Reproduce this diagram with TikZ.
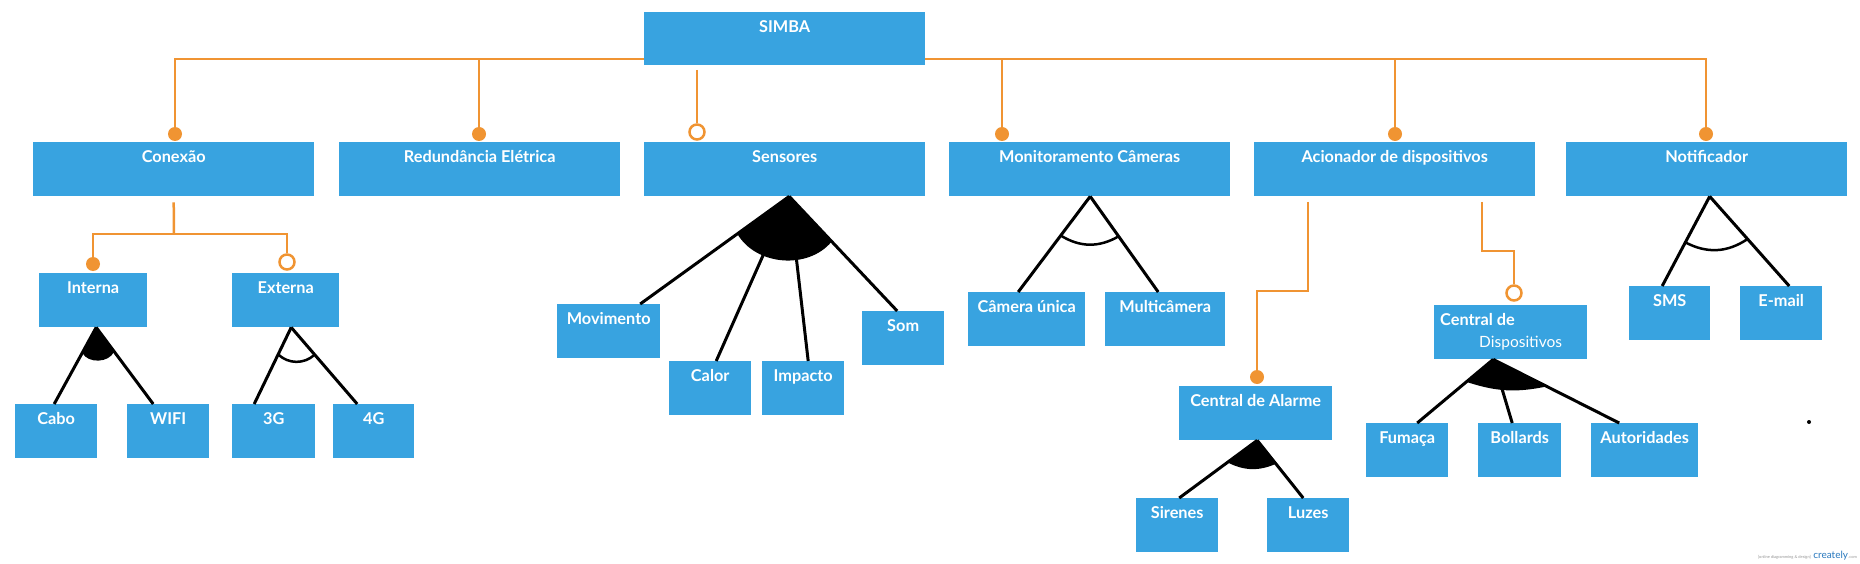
\documentclass[tikz,border=0pt]{standalone}
\usepackage{fontspec}
\setmainfont{Lato}
\usetikzlibrary{calc}
\definecolor{boxblue}{RGB}{56,163,224}
\definecolor{lineorange}{RGB}{240,148,50}
\definecolor{wmgray}{RGB}{150,150,150}
\definecolor{wmblue}{RGB}{40,120,190}
\begin{document}
\begin{tikzpicture}[x=1pt,y=-1pt,
 box/.style={fill=boxblue, inner sep=0pt, text=white, font=\fontsize{16.3}{19}\selectfont\bfseries, anchor=north west, minimum height=54pt, text height=20pt, text depth=34pt},
 oline/.style={draw=lineorange, line width=2.5pt},
 fdot/.style={circle, fill=lineorange, minimum size=14pt, inner sep=0pt},
 odot/.style={circle, draw=lineorange, fill=white, line width=2.5pt, minimum size=15pt, inner sep=0pt},
 bline/.style={draw=black, line width=3pt},
 arcline/.style={draw=black, line width=2.5pt},
 boxtext/.style={anchor=base west, text=white, inner sep=0pt},
]
\fill[white] (0,0) rectangle (1860,564);
\useasboundingbox (0,0) rectangle (1860,564);

% top-level connectors
\coordinate (bus) at (784,59);
\node[fdot] (dCon) at (175,134) {};
\node[fdot] (dRed) at (479,134) {};
\node[odot] (oSen) at (697,132) {};
\node[fdot] (dMon) at (1002,134) {};
\node[fdot] (dAci) at (1395,134) {};
\node[fdot] (dNot) at (1706,134) {};
\coordinate (sStart) at (697,70);
\draw[oline] (dCon) -- (dCon |- bus) -- (dNot |- bus) -- (dNot);
\draw[oline] (dRed) -- (dRed |- bus);
\draw[oline] (dMon) -- (dMon |- bus);
\draw[oline] (dAci) -- (dAci |- bus);
\draw[oline] (sStart) -- (oSen);

% boxes
\node[box, minimum width=281pt, minimum height=53pt, text depth=33pt] (simba) at (644,12) {SIMBA};
\node[box, minimum width=281pt] (conexao) at (33,142) {Conexão};
\node[box, minimum width=281pt] (redund) at (339,142) {Redundância Elétrica};
\node[box, minimum width=281pt] (sensores) at (644,142) {Sensores};
\node[box, minimum width=281pt] (monit) at (949,142) {Monitoramento Câmeras};
\node[box, minimum width=281pt] (acion) at (1254,142) {Acionador de dispositivos};
\node[box, minimum width=281pt] (notif) at (1566,142) {Notificador};

\node[box, minimum width=108pt] (interna) at (39,273) {Interna};
\node[box, minimum width=107pt] (externa) at (232,273) {Externa};
\node[box, minimum width=82pt] (cabo) at (15,404) {Cabo};
\node[box, minimum width=82pt] (wifi) at (127,404) {WIFI};
\node[box, minimum width=83pt] (g3) at (232,404) {3G};
\node[box, minimum width=81pt] (g4) at (333,404) {4G};

\node[box, minimum width=103pt] (movimento) at (557,304) {Movimento};
\node[box, minimum width=82pt] (calor) at (669,361) {Calor};
\node[box, minimum width=82pt] (impacto) at (762,361) {Impacto};
\node[box, minimum width=82pt] (som) at (862,311) {Som};

\node[box, minimum width=117pt] (camera) at (968,292) {Câmera única};
\node[box, minimum width=120pt] (multi) at (1105,292) {Multicâmera};

\node[box, minimum width=153pt] (calarme) at (1179,386) {Central de Alarme};
\node[box, minimum width=153pt] (cdisp) at (1434,305) {};
\node[boxtext, font=\fontsize{16.3}{19}\selectfont\bfseries] (cdispA) at (1440,325) {Central de};
\node[boxtext, font=\fontsize{15.5}{18}\selectfont] (cdispB) at (1479,347) {Dispositivos};

\node[box, minimum width=82pt] (sirenes) at (1136,498) {Sirenes};
\node[box, minimum width=82pt] (luzes) at (1267,498) {Luzes};
\node[box, minimum width=82pt] (fumaca) at (1366,423) {Fumaça};
\node[box, minimum width=83pt] (bollards) at (1478,423) {Bollards};
\node[box, minimum width=107pt] (autoridades) at (1591,423) {Autoridades};
\node[box, minimum width=81pt] (sms) at (1629,286) {SMS};
\node[box, minimum width=82pt] (email) at (1740,286) {E-mail};

% Conexao sub connectors
\node[fdot] (dInt) at (93,264) {};
\node[odot] (oExt) at (287,262) {};
\coordinate (cStart) at ([yshift=-6pt]conexao.south);
\coordinate (cbus) at (174,234);
\draw[oline] (cStart) -- (cbus);
\draw[oline] (dInt) -- (dInt |- cbus) -- (oExt |- cbus) -- (oExt);

% Acionador sub connectors
\coordinate (a1) at (1308,202);
\coordinate (a1b) at (1308,291);
\node[fdot] (dCal) at (1257,377) {};
\draw[oline] (a1) -- (a1b) -| (dCal);
\coordinate (a2) at (1482,202);
\coordinate (a2b) at (1482,251);
\node[odot] (oCd) at (1514,293) {};
\draw[oline] (a2) -- (a2b) -| (oCd);

% Interna group (or)
\coordinate (apInt) at ([xshift=3pt]interna.south);
\coordinate (eCabo) at ([xshift=-2pt]cabo.north);
\coordinate (eWifi) at ([xshift=-15pt]wifi.north);
\draw[bline] (apInt) -- (eCabo);
\draw[bline] (apInt) -- (eWifi);
\fill (apInt) -- ($(apInt)!29pt!(eCabo)$) to[bend right=65] ($(apInt)!30pt!(eWifi)$) -- cycle;

% Externa group (alternative)
\coordinate (apExt) at ([xshift=5.5pt]externa.south);
\coordinate (e3G) at ([xshift=-19.5pt]g3.north);
\coordinate (e4G) at ([xshift=-16.5pt]g4.north);
\draw[bline] (apExt) -- (e3G);
\draw[bline] (apExt) -- (e4G);
\draw[arcline] ($(apExt)!30pt!(e3G)$) to[bend right=43] ($(apExt)!36pt!(e4G)$);

% Sensores group (or)
\coordinate (apSen) at ([xshift=4.5pt]sensores.south);
\coordinate (eMov) at ([xshift=31.5pt]movimento.north);
\coordinate (eCal) at ([xshift=6pt]calor.north);
\coordinate (eImp) at ([xshift=5pt]impacto.north);
\coordinate (eSom) at ([xshift=-6pt]som.north);
\draw[bline] (apSen) -- (eMov);
\draw[bline] (apSen) -- (eCal);
\draw[bline] (apSen) -- (eImp);
\draw[bline] (apSen) -- (eSom);
\fill (apSen) -- ($(apSen)!64pt!(eMov)$) to[bend right=55] ($(apSen)!62pt!(eSom)$) -- cycle;

% Monitoramento group (alternative)
\coordinate (apMon) at ([xshift=0.5pt]monit.south);
\coordinate (eCam) at ([xshift=-8.5pt]camera.north);
\coordinate (eMul) at ([xshift=-7pt]multi.north);
\draw[bline] (apMon) -- (eCam);
\draw[bline] (apMon) -- (eMul);
\draw[arcline] ($(apMon)!49pt!(eCam)$) to[bend right=31] ($(apMon)!49pt!(eMul)$);

% Central de Alarme group (or)
\coordinate (apCal) at ([xshift=1.5pt]calarme.south);
\coordinate (eSir) at ([xshift=2pt]sirenes.north);
\coordinate (eLuz) at ([xshift=-5pt]luzes.north);
\draw[bline] (apCal) -- (eSir);
\draw[bline] (apCal) -- (eLuz);
\fill (apCal) -- ($(apCal)!37pt!(eSir)$) to[bend right=25] ($(apCal)!30pt!(eLuz)$) -- cycle;

% Central de Dispositivos group (or)
\coordinate (apCd) at ([xshift=-17.5pt]cdisp.south);
\coordinate (eFum) at ([xshift=10pt]fumaca.north);
\coordinate (eBol) at ([xshift=-7.5pt]bollards.north);
\coordinate (eAut) at ([xshift=-25.5pt]autoridades.north);
\draw[bline] (apCd) -- (eFum);
\draw[bline] (apCd) -- (eBol);
\draw[bline] (apCd) -- (eAut);
\fill (apCd) -- ($(apCd)!35pt!(eFum)$) to[bend right=15] ($(apCd)!60pt!(eAut)$) -- cycle;

% Notificador group (alternative)
\coordinate (apNot) at ([xshift=3pt]notif.south);
\coordinate (eSms) at ([xshift=-7.5pt]sms.north);
\coordinate (eEma) at ([xshift=8pt]email.north);
\draw[bline] (apNot) -- (eSms);
\draw[bline] (apNot) -- (eEma);
\draw[arcline] ($(apNot)!52pt!(eSms)$) to[bend right=31] ($(apNot)!57pt!(eEma)$);

% stray dot
\fill (1809,422) circle[radius=2pt];

% watermark
\node[anchor=base east, inner sep=0pt, text=wmgray, font=\fontsize{4}{5}\selectfont] (wm3) at (1857,558) {.com};
\node[anchor=base east, inner sep=0pt, text=wmblue, font=\fontsize{10}{12}\selectfont] (wm2) at (wm3.base west) {creately};
\node[anchor=base east, inner sep=0pt, text=wmgray, font=\fontsize{4}{5}\selectfont] (wm1) at ([xshift=-2pt]wm2.base west) {[online diagramming \& design]};
\end{tikzpicture}
\end{document}
